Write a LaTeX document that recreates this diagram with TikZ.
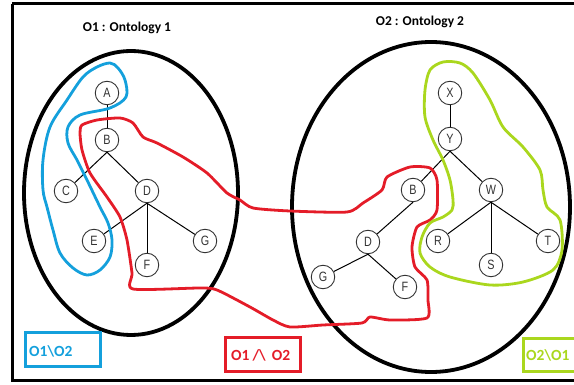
\documentclass[tikz,border=0pt]{standalone}
\usepackage{fontspec}
\setmainfont{Liberation Sans}
\newfontfamily\calib{Carlito}
\newfontfamily\narrowsans[FakeStretch=0.8]{Liberation Sans}
\definecolor{bblue}{RGB}{20,160,220}
\definecolor{rred}{RGB}{228,28,40}
\definecolor{ggreen}{RGB}{170,215,30}
\begin{document}
\begin{tikzpicture}[x=1pt,y=-1pt,
  vert/.style={circle,draw=black!80,line width=0.9pt,minimum size=23.5pt,inner sep=0pt,font=\narrowsans\fontsize{13.5}{13.5}\selectfont,text=black!80},
  edge/.style={line width=1pt},
  blob/.style={line width=2.8pt,line join=round},
  title/.style={font=\calib\bfseries\fontsize{13.5}{14}\selectfont},
  legend/.style={font=\calib\bfseries\fontsize{15.5}{16}\selectfont,inner sep=0pt},
  legbox/.style={line width=3pt}]
\useasboundingbox (0,0) rectangle (574,385);
% frame
\draw[line width=3pt] (12,4) -- (580,4) (12,4) -- (12,381) -- (580,381);
% ellipses
\draw[line width=3.8pt] (131,193) ellipse [x radius=107,y radius=142];
\draw[line width=3.8pt] (431,207) ellipse [x radius=139,y radius=165];
% titles
\node[title] (t1) at (127,28) {O1 : Ontology 1};
\node[title] (t2) at (420,22) {O2 : Ontology 2};
% left tree
\node[vert] (A) at (107,93) {A};
\node[vert] (B) at (107,140) {B};
\node[vert] (C) at (66,191) {C};
\node[vert] (D) at (147,191) {D};
\node[vert] (E) at (94,241) {E};
\node[vert] (F) at (147,265) {F};
\node[vert] (G) at (205,241) {G};
\draw[edge] (A) -- (B);
\draw[edge] (B.south) -- (C);
\draw[edge] (B.south) -- (D);
\draw[edge] (D.south) -- (E);
\draw[edge] (D.south) -- (F);
\draw[edge] (D.south) -- (G);
% right tree
\node[vert] (X) at (450,93) {X};
\node[vert] (Y) at (450,139) {Y};
\node[vert] (B2) at (413,190) {B};
\node[vert] (W) at (491,190) {W};
\node[vert] (D2) at (368,242) {D};
\node[vert] (G2) at (323,277) {G};
\node[vert] (F2) at (405,287) {F};
\node[vert] (R) at (438,241) {R};
\node[vert] (S) at (491,265) {S};
\node[vert] (T) at (548,241) {T};
\draw[edge] (X) -- (Y);
\draw[edge] (Y.south) -- (B2);
\draw[edge] (Y.south) -- (W);
\draw[edge] (B2.south) -- (D2);
\draw[edge] (D2.south) -- (G2);
\draw[edge] (D2.south) -- (F2);
\draw[edge] (W.south) -- (R);
\draw[edge] (W.south) -- (S);
\draw[edge] (W.south) -- (T);
% blue blob
\draw[blob,bblue] plot[smooth cycle,tension=0.55] coordinates {
 (110,63) (118,68) (125,80) (126,97) (110,108) (80,115) (68,127) (68,143)
 (77,160) (87,180) (100,207) (108,223) (112,240) (110,257) (100,270) (87,275)
 (73,268) (60,253) (53,230) (47,207) (43,190) (43,160) (50,127) (67,100)
 (83,77) (97,67)};
% red blob
\draw[blob,rred] plot[smooth cycle,tension=0.4] coordinates {
 (82,125) (97,120) (120,118) (133,123) (143,137) (157,143) (183,157) (207,173)
 (227,193) (240,200) (253,208) (290,211) (347,212) (363,203) (382,190)
 (387,177) (410,167) (430,168) (437,180) (437,210) (430,220) (417,227)
 (412,247) (415,267) (427,280) (428,300) (427,318) (390,320) (370,317)
 (362,323) (323,325) (290,327) (273,320) (250,307) (217,290) (200,288)
 (133,289) (132,273) (127,240) (120,217) (107,197) (90,173) (82,150) (80,133)};
% green blob
\draw[blob,ggreen] plot[smooth cycle,tension=0.5] coordinates {
 (443,62) (430,70) (425,90) (425,117) (433,140) (443,160) (450,180) (453,200)
 (452,210) (443,217) (430,223) (422,237) (420,253) (430,267) (450,277)
 (490,285) (523,282) (553,270) (562,250) (560,220) (547,207) (543,190)
 (540,170) (523,147) (503,127) (490,100) (473,73) (460,63)};
% legend
\draw[legbox,bblue] (25,333) rectangle (100,367);
\node[legend,bblue,anchor=west] (l1) at (29,351) {O1\textbackslash O2};
\draw[legbox,rred] (225,338) rectangle (300,372);
\node[legend,rred,anchor=west] (l2) at (231,355) {O1\hspace{3pt}/\textbackslash\hspace{6pt}O2};
\draw[legbox,ggreen] (523,339) rectangle (578,372);
\node[legend,ggreen,anchor=west] (l3) at (526,355) {O2\textbackslash O1};
\end{tikzpicture}
\end{document}
